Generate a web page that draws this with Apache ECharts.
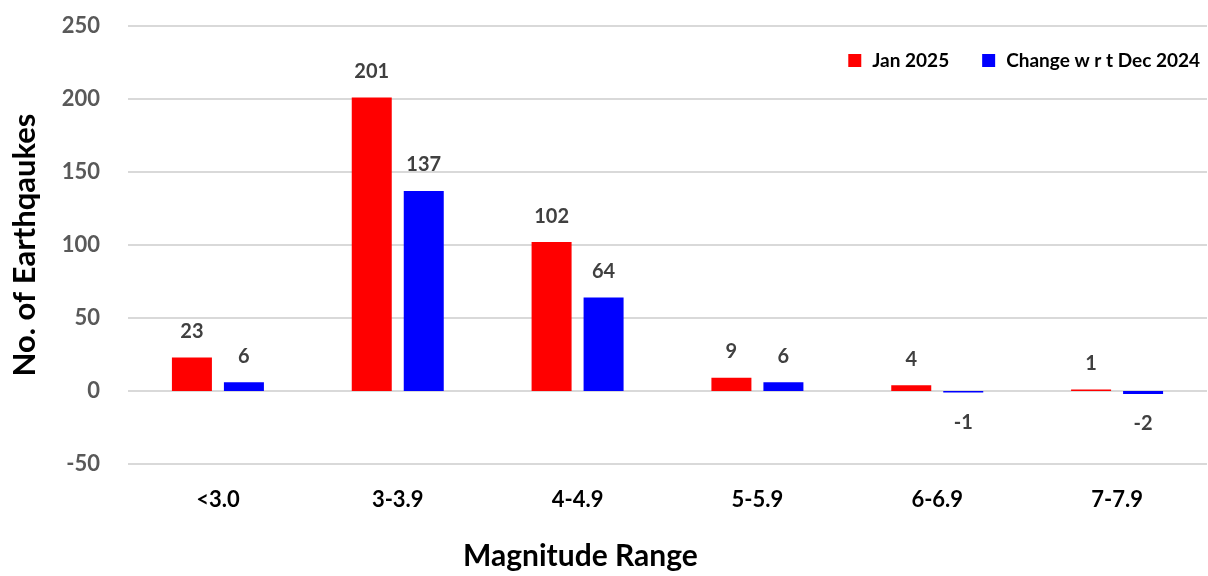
<!DOCTYPE html>
<html><head><meta charset="utf-8">
<script src="https://cdn.jsdelivr.net/npm/echarts@6/dist/echarts.min.js"></script>
<style>html,body{margin:0;padding:0;background:#fff}#c{width:1208px;height:576px}</style>
</head><body><div id="c"></div>
<script>
var categories = ['<3.0', '3-3.9', '4-4.9', '5-5.9', '6-6.9', '7-7.9'];
var jan2025 = [23, 201, 102, 9, 4, 1];
var changeDec2024 = [6, 137, 64, 6, -1, -2];
var yTicks = { min: -50, max: 250, interval: 50 };

var FONT = 'Lato';
function mk(vals) {
  return vals.map(function (v) {
    return { value: v, label: v < 0 ? { position: 'bottom', distance: 20 } : { position: 'top', distance: 16 } };
  });
}
var chart = echarts.init(document.getElementById('c'));
chart.setOption({
  animation: false,
  textStyle: { fontFamily: FONT },
  title: {
    text: 'Magnitude Range', left: 458, top: 536,
    textStyle: { fontFamily: FONT, fontWeight: 'bold', fontSize: 30, color: '#000' }
  },
  legend: {
    right: 3, top: 46, itemWidth: 13, itemHeight: 13, itemGap: 33,
    icon: 'rect',
    textStyle: { fontFamily: FONT, fontWeight: 'bold', fontSize: 19, color: '#000', padding: [0, 0, 0, 6] },
    data: ['Jan 2025', 'Change w r t Dec 2024']
  },
  grid: { left: 128, right: 1, top: 26, bottom: 112, containLabel: false },
  xAxis: {
    type: 'category', data: categories,
    axisLine: { show: false }, axisTick: { show: false },
    axisLabel: { margin: 25, fontFamily: FONT, fontWeight: 'bold', fontSize: 22, color: '#000' }
  },
  yAxis: {
    type: 'value', min: yTicks.min, max: yTicks.max, interval: yTicks.interval,
    name: 'No. of Earthqaukes', nameLocation: 'middle', nameGap: 88,
    nameTextStyle: { fontFamily: FONT, fontWeight: 'bold', fontSize: 31, color: '#000' },
    axisLine: { show: false }, axisTick: { show: false },
    axisLabel: { margin: 28, fontFamily: FONT, fontWeight: 'bold', fontSize: 22, color: '#595959' },
    splitLine: { lineStyle: { color: '#d9d9d9', width: 2 } }
  },
  series: [
    {
      name: 'Jan 2025', type: 'bar', data: mk(jan2025), barWidth: 40, barGap: '30%',
      itemStyle: { color: '#ff0000' },
      label: { show: true, fontFamily: FONT, fontWeight: 'bold', fontSize: 20, color: '#404040' }
    },
    {
      name: 'Change w r t Dec 2024', type: 'bar', data: mk(changeDec2024), barWidth: 40, barGap: '30%',
      itemStyle: { color: '#0000ff' },
      label: { show: true, fontFamily: FONT, fontWeight: 'bold', fontSize: 20, color: '#404040' }
    }
  ]
});
</script></body></html>
